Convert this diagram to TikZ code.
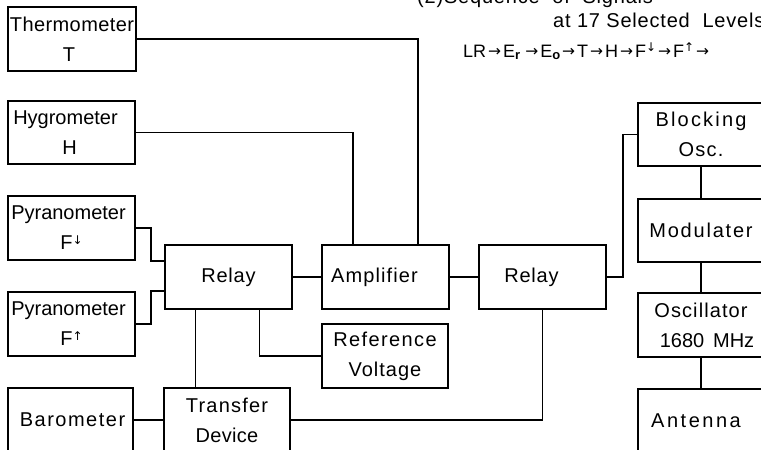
\documentclass[tikz,border=0pt]{standalone}
\usepackage{fontspec}
\setmainfont{Liberation Sans}
\newfontfamily\djv{DejaVu Sans}
\usetikzlibrary{calc}
\newcommand\sqarr{\hspace{2pt}\raisebox{0.8pt}{\djv\fontsize{15.5}{15}\selectfont →}\hspace{2pt}}
\newcommand\sqsub[1]{\raisebox{-2.5pt}{\fontsize{13}{13}\selectfont\bfseries #1}}
\newcommand\sqsup[1]{\raisebox{5.5pt}{\djv\fontsize{12}{12}\selectfont #1}}
\newcommand\ls[1]{\addfontfeature{LetterSpace=#1}}
\begin{document}
\begin{tikzpicture}[x=1pt,y=-1pt,
  box/.style={draw, line width=1.8pt, inner sep=0pt, align=center,
    font=\fontsize{20}{30}\selectfont},
  wire/.style={line width=1.8pt},
  seqtext/.style={inner sep=0pt, anchor=base west, font=\fontsize{20}{22}\selectfont}]
\useasboundingbox (0,0) rectangle (761,450);

% sensors
\node[box, minimum width=128pt, minimum height=64pt] (therm) at (72,39) {\ls{2}Thermometer\\T\hspace*{6pt}};
\node[box, minimum width=127pt, minimum height=63pt] (hygro) at (71.5,132.5) {Hygrometer\hspace*{12pt}\\H\hspace*{4pt}};
\node[box, minimum width=127pt, minimum height=64pt] (pyrd) at (71.5,228) {Pyranometer\hspace*{6pt}\\F\sqsup{↓}};
\node[box, minimum width=127pt, minimum height=64pt] (pyru) at (71.5,324) {Pyranometer\hspace*{6pt}\\F\sqsup{↑}};
\node[box, minimum width=125pt, minimum height=64pt] (baro) at (70.5,420) {\hspace*{4pt}\ls{7.5}Barometer};

% middle
\node[box, minimum width=127pt, minimum height=64pt] (relay1) at (228.5,277) {\ls{4}Relay};
\node[box, minimum width=126pt, minimum height=64pt] (transfer) at (227,420) {\ls{6}Transfer\\\ls{1.5}Device};
\node[box, minimum width=127pt, minimum height=64pt] (amp) at (385.5,277) {\ls{5.5}Amplifier\hspace*{22pt}};
\node[box, minimum width=126pt, minimum height=64pt] (refv) at (385,356) {\ls{7}Reference\\\ls{5}Voltage};
\node[box, minimum width=127pt, minimum height=64pt] (relay2) at (542.5,277) {\ls{4}Relay\hspace*{22pt}};

% transmitter chain
\node[box, minimum width=126pt, minimum height=63pt] (block) at (701,134.5) {\ls{11}Blocking\\\ls{6}Osc.};
\node[box, minimum width=126pt, minimum height=63pt] (mod) at (701,230.5) {\ls{9}Modulater};
\node[box, minimum width=126pt, minimum height=64pt] (osc) at (701,325) {\ls{5.5}Oscillator\\\hspace*{12pt}1680\ \,MHz};
\node[box, minimum width=126pt, minimum height=64pt] (ant) at (701,421) {\ls{12.5}Antenna\hspace*{10pt}};

% sequence text (partly cut at the top, as in the original)
\node[seqtext] (seqa) at (417,3) {\ls{4}(2)Sequence\ \ of\ \ Signals};
\node[seqtext] (seqb) at (553,27) {\ls{4}at 17 Selected\ \ Levels};
\node[seqtext, font=\fontsize{18}{22}\selectfont] (seqc) at (463,57) {LR\sqarr E\sqsub{r}\,\sqarr E\sqsub{o}\sqarr T\sqarr H\sqarr F\sqsup{↓}\sqarr F\sqsup{↑}\sqarr};

% anchor points
\coordinate (ampA) at ($(amp.north west)!0.25!(amp.north east)$);
\coordinate (ampB) at ($(amp.north west)!0.75!(amp.north east)$);
\coordinate (r1a) at ($(relay1.north west)!0.26!(relay1.south west)$);
\coordinate (r1b) at ($(relay1.north west)!0.71!(relay1.south west)$);
\coordinate (r1c) at ($(relay1.south west)!0.244!(relay1.south east)$);
\coordinate (r1d) at ($(relay1.south west)!0.74!(relay1.south east)$);

% connectors
\draw[wire] (therm.east) -| (ampB);
\draw[wire] (hygro.east) -| (ampA);
\draw[wire] (pyrd.east) -- ++(15,0) |- (r1a);
\draw[wire] (pyru.east) -- ++(15,0) |- (r1b);
\draw[wire] (relay1.east) -- (amp.west);
\draw[wire] (amp.east) -- (relay2.west);
\draw[wire] (r1c) -- (r1c |- transfer.north);
\draw[wire] (r1d) |- (refv.west);
\draw[wire] (baro.east) -- (transfer.west);
\draw[wire] (transfer.east) -| (relay2.south);
\draw[wire] (relay2.east) -- ++(16,0) |- (block.west);
\draw[wire] (block.south) -- (mod.north);
\draw[wire] (mod.south) -- (osc.north);
\draw[wire] (osc.south) -- (ant.north);
\end{tikzpicture}
\end{document}
